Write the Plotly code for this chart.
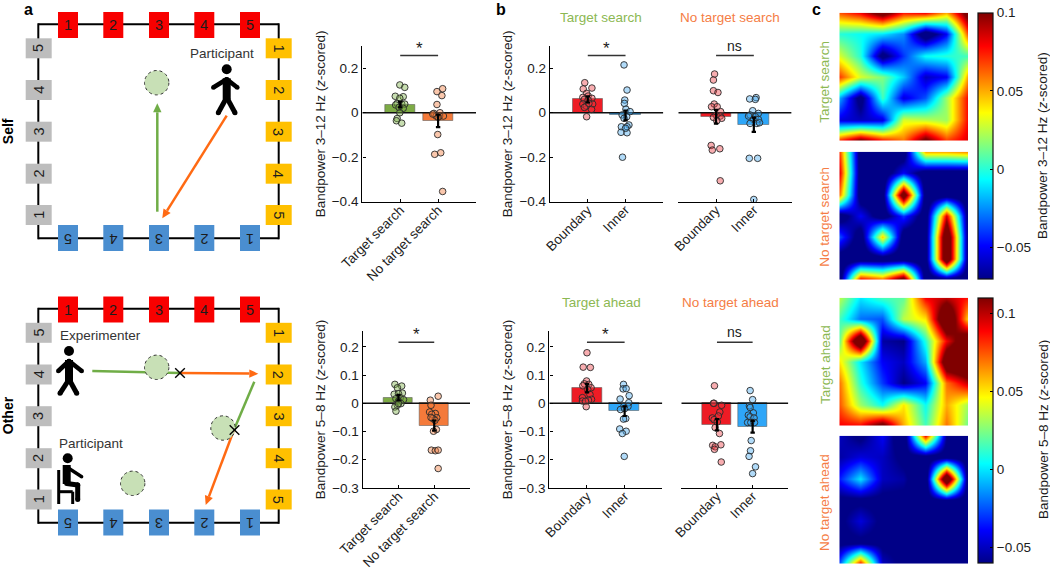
import plotly.graph_objects as go

W, H = 1050, 569
FONT = "Liberation Sans"
INK = "#1c1c1c"

# ---------- data ----------
GROUPS_SEARCH = ["Target search", "No target search"]
GROUPS_LOC = ["Boundary", "Inner"]
TICKS_3_12 = [0.2, 0, -0.2, -0.4]
TICKS_5_8 = [0.2, 0.1, 0, -0.1, -0.2, -0.3]

A1_BARS = [0.037, -0.037]
A1_ERR = [0.013, 0.028]
A1_G_X = [0.99, 1.12, 0.87, 1.08, 0.99, 0.92, 1.04, 1.12, 0.88, 0.97, 1.08, 0.99, 0.92, 0.90, 1.04]
A1_G_Y = [0.125, 0.114, 0.074, 0.072, 0.065, 0.042, 0.039, 0.039, 0.035, 0.024, 0.020, 0.0, -0.026, -0.036, -0.047]
A1_O_X = [2.12, 1.97, 2.10, 1.97, 1.89, 2.05, 1.95, 2.04, 2.14, 1.86, 1.99, 2.07, 1.91, 2.12, 2.0]
A1_O_Y = [0.108, 0.095, 0.077, 0.037, -0.003, 0.0, -0.015, -0.015, -0.015, -0.006, -0.098, -0.18, -0.187, -0.354, -0.02]

A2_BARS = [0.02, -0.079]
A2_ERR = [0.01, 0.018]
A2_G_X = [0.90, 1.09, 0.97, 1.11, 0.88, 1.0, 1.05, 0.93, 1.14, 1.0, 1.07, 0.97, 0.90, 1.0, 0.93]
A2_G_Y = [0.067, 0.061, 0.055, 0.036, 0.032, 0.034, 0.02, 0.016, 0.013, 0.008, -0.001, -0.007, -0.013, -0.001, -0.028]
A2_O_X = [2.11, 1.89, 1.91, 1.87, 2.03, 1.93, 2.07, 1.96, 2.02, 1.91, 2.06, 1.98, 1.92, 2.03, 2.11, 2.11]
A2_O_Y = [0.025, 0.011, -0.007, -0.031, -0.036, -0.039, -0.051, -0.054, -0.06, -0.05, -0.093, -0.099, -0.166, -0.168, -0.166, -0.231]

B1_BARS = [0.06, -0.012]
B1_ERR = [0.014, 0.022]
B1_R_X = [0.92, 0.88, 1.11, 0.97, 0.87, 1.01, 1.11, 0.91, 1.01, 0.87, 0.96, 1.13, 0.91, 1.10, 1.03, 0.97]
B1_R_Y = [0.135, 0.107, 0.111, 0.087, 0.069, 0.075, 0.065, 0.06, 0.057, 0.039, 0.03, 0.039, 0.024, 0.015, 0.042, -0.018]
B1_B_X = [1.96, 2.04, 1.98, 1.97, 2.01, 2.12, 1.91, 2.03, 1.96, 2.09, 1.89, 2.04, 1.88, 2.04, 2.0, 1.92]
B1_B_Y = [0.215, 0.102, 0.057, 0.042, 0.016, 0.005, -0.01, -0.018, -0.025, -0.055, -0.063, -0.063, -0.088, -0.09, -0.07, -0.2]

B2_BARS = [-0.018, -0.054]
B2_ERR = [0.031, 0.032]
B2_R_X = [0.96, 0.93, 0.93, 1.05, 0.95, 0.88, 1.03, 1.12, 1.0, 0.93, 1.11, 1.15, 1.02, 0.87, 0.90, 1.10, 1.11]
B2_R_Y = [0.174, 0.147, 0.099, 0.091, 0.039, 0.027, 0.027, 0.005, -0.01, -0.021, -0.015, -0.025, -0.036, -0.147, -0.168, -0.162, -0.306]
B2_B_X = [1.89, 2.06, 2.04, 1.97, 2.12, 1.90, 2.04, 1.86, 1.99, 2.12, 2.08, 1.90, 2.15, 1.88, 2.10, 2.0]
B2_B_Y = [0.062, 0.068, 0.06, 0.009, -0.003, -0.01, -0.018, -0.015, -0.03, -0.03, -0.048, -0.048, -0.045, -0.205, -0.205, -0.39]

B3_BARS = [0.054, -0.028]
B3_ERR = [0.015, 0.017]
B3_R_X = [1.0, 0.90, 1.09, 0.99, 0.93, 1.05, 0.89, 1.11, 1.02, 1.08, 0.88, 1.12, 1.04, 0.88, 0.96, 0.98]
B3_R_Y = [0.179, 0.128, 0.127, 0.079, 0.069, 0.067, 0.062, 0.055, 0.049, 0.031, 0.02, 0.014, 0.011, 0.008, 0.007, -0.012]
B3_B_X = [1.97, 1.96, 2.04, 2.12, 1.88, 2.11, 1.98, 2.09, 1.89, 2.0, 2.03, 1.97, 1.87, 2.04, 1.94, 1.99]
B3_B_Y = [0.067, 0.051, 0.052, 0.027, 0.015, 0.002, -0.011, -0.011, -0.022, -0.019, -0.054, -0.056, -0.091, -0.099, -0.107, -0.188]

B4_BARS = [-0.076, -0.083]
B4_ERR = [0.02, 0.021]
B4_R_X = [0.93, 0.92, 0.90, 1.13, 1.08, 1.04, 0.87, 0.92, 0.95, 1.07, 0.88, 1.11, 0.95, 0.93, 1.12, 1.01]
B4_R_Y = [0.062, 0.0, 0.0, -0.007, -0.031, -0.045, -0.052, -0.058, -0.086, -0.107, -0.149, -0.147, -0.154, -0.163, -0.208, -0.066]
B4_B_X = [1.93, 2.0, 1.91, 1.93, 2.02, 1.88, 1.93, 2.04, 1.86, 1.95, 2.05, 1.96, 1.94, 1.90, 2.08, 2.0]
B4_B_Y = [0.045, 0.013, -0.009, -0.015, -0.034, -0.042, -0.048, -0.052, -0.068, -0.068, -0.068, -0.132, -0.168, -0.188, -0.225, -0.249]

HEAT_TARGET_SEARCH = [
    [0.065, 0.08, 0.115, 0.075, 0.08, 0.05, 0.115],
    [0.0, -0.005, -0.01, -0.025, -0.09, -0.05, 0.07],
    [0.03, 0.0, -0.08, -0.04, -0.005, 0.0, 0.005],
    [0.07, 0.03, 0.015, -0.015, -0.06, -0.05, 0.055],
    [-0.02, -0.08, 0.005, -0.055, -0.035, 0.02, 0.08],
    [-0.055, -0.06, -0.055, 0.03, 0.025, 0.02, 0.08],
    [0.075, 0.11, 0.08, 0.06, 0.11, 0.07, 0.085],
]
HEAT_NO_TARGET_SEARCH = [
    [0.07, -0.085, -0.085, -0.085, 0.05, 0.05, 0.055],
    [0.085, -0.085, -0.085, -0.05, -0.085, -0.085, -0.085],
    [0.06, -0.085, -0.085, 0.13, -0.085, -0.085, -0.085],
    [-0.085, -0.05, -0.085, -0.04, -0.085, 0.085, -0.085],
    [-0.035, -0.085, 0.045, -0.085, -0.085, 0.14, -0.085],
    [-0.085, -0.085, -0.085, -0.085, -0.085, 0.14, -0.085],
    [-0.085, 0.085, 0.065, 0.125, -0.085, -0.085, -0.085],
]
HEAT_TARGET_AHEAD = [
    [0.035, 0.0, 0.015, 0.02, 0.09, 0.1, 0.085],
    [0.015, -0.02, -0.025, 0.035, 0.05, 0.15, 0.05],
    [0.02, 0.16, -0.055, -0.06, 0.01, 0.09, 0.14],
    [0.05, 0.0, -0.04, -0.05, -0.01, 0.14, 0.15],
    [0.07, 0.01, -0.03, -0.06, -0.04, 0.07, 0.1],
    [0.075, 0.03, 0.005, 0.05, 0.005, 0.06, 0.03],
    [0.09, 0.09, 0.125, 0.06, 0.015, 0.07, 0.02],
]
HEAT_NO_TARGET_AHEAD = [
    [-0.05, -0.065, -0.04, -0.08, 0.09, -0.06, -0.065],
    [-0.055, -0.045, -0.05, -0.065, -0.07, -0.07, -0.07],
    [-0.035, 0.0, -0.05, -0.055, -0.08, 0.16, -0.08],
    [-0.065, -0.065, -0.065, -0.065, -0.07, -0.06, -0.07],
    [-0.065, -0.045, -0.065, -0.065, -0.065, -0.065, -0.065],
    [-0.065, -0.065, -0.065, -0.065, -0.065, -0.065, -0.065],
    [-0.025, 0.09, -0.05, -0.065, -0.065, -0.065, -0.065],
]
CBAR_RANGE_TOP = [-0.07, 0.1]
CBAR_RANGE_BOTTOM = [-0.06, 0.11]
CBAR_TICKS = [0.1, 0.05, 0, -0.05]
CBAR_LABELS = ["0.1", "0.05", "0", "\u22120.05"]

SIDE_NUMBERS = ["1", "2", "3", "4", "5"]

# ---------- colours ----------
GREEN, ORANGE, RED, BLUE = "#7dab45", "#f47a3a", "#ee1c25", "#2ea6f8"
GREEN_RGB, ORANGE_RGB = "124,176,70", "244,122,58"
RED_RGB, BLUE_RGB = "238,60,66", "70,170,240"
HEAD_GREEN, HEAD_ORANGE = "#8cb852", "#f57d45"
JET = [[0, "rgb(0,0,135)"], [0.125, "rgb(0,0,255)"], [0.375, "rgb(0,255,255)"],
       [0.625, "rgb(255,255,0)"], [0.875, "rgb(255,0,0)"], [1, "rgb(128,0,0)"]]

fig = go.Figure()
shapes, annots = [], []
layout = {}


def fx(px):
    return px / W


def fy(py):
    return 1 - py / H


def txt(x, y, s, size=13.5, color=INK, angle=0, bold=False):
    annots.append(dict(
        x=fx(x), y=fy(y), xref="paper", yref="paper", text=f"<b>{s}</b>" if bold else s,
        showarrow=False, textangle=angle, xanchor="center", yanchor="middle",
        font=dict(family=FONT, size=size, color=color)))


def rect(x0, y0, x1, y1, fill, line="rgba(255,255,255,0)"):
    shapes.append(dict(type="rect", xref="paper", yref="paper", x0=fx(x0), x1=fx(x1),
                       y0=fy(y0), y1=fy(y1), fillcolor=fill, line=dict(color=line, width=0.5)))


def seg(x0, y0, x1, y1, color="black", width=2.0):
    shapes.append(dict(type="line", xref="paper", yref="paper", x0=fx(x0), x1=fx(x1),
                       y0=fy(y0), y1=fy(y1), line=dict(color=color, width=width)))


def disc(cx, cy, r, fill="black", line=None, dash="solid", lw=0):
    shapes.append(dict(type="circle", xref="paper", yref="paper", x0=fx(cx - r), x1=fx(cx + r),
                       y0=fy(cy - r), y1=fy(cy + r), fillcolor=fill,
                       line=dict(color=line or fill, width=lw, dash=dash)))


def limb(x0, y0, x1, y1, w):
    seg(x0, y0, x1, y1, "black", w)
    disc(x0, y0, w / 2)
    disc(x1, y1, w / 2)


def arrow(x0, y0, x1, y1, color, width=2.5, head=9, half=4.2):
    dx, dy = x1 - x0, y1 - y0
    n = (dx * dx + dy * dy) ** 0.5
    ux, uy = dx / n, dy / n
    bx, by = x1 - ux * head, y1 - uy * head
    seg(x0, y0, bx, by, color, width)
    p1 = (bx - uy * half, by + ux * half)
    p2 = (bx + uy * half, by - ux * half)
    path = f"M {fx(x1)} {fy(y1)} L {fx(p1[0])} {fy(p1[1])} L {fx(p2[0])} {fy(p2[1])} Z"
    shapes.append(dict(type="path", xref="paper", yref="paper", path=path, fillcolor=color,
                       line=dict(color=color, width=0)))


def cross(x, y, r=4.8):
    seg(x - r, y - r, x + r, y + r, "black", 1.4)
    seg(x - r, y + r, x + r, y - r, "black", 1.4)


def standing(dx, dy, ax, bx, ay, ly, lx0, lx1):
    # head, torso, arms, legs of the stick person
    disc(dx, dy, 5)
    seg(dx, dy + 9, dx, dy + 30, "black", 8)
    limb(dx, dy + 10, ax, ay, 4.6)
    limb(dx, dy + 10, bx, ay, 4.6)
    limb(dx - 1, dy + 30, lx0, ly, 5)
    limb(dx + 1, dy + 30, lx1, ly, 5)


def arena(dy):
    seg(38.3, 24.3 + dy, 278.7, 24.3 + dy)
    seg(38.3, 238.3 + dy, 278.7, 238.3 + dy)
    seg(38.3, 23.3 + dy, 38.3, 239.3 + dy)
    seg(278.7, 23.3 + dy, 278.7, 239.3 + dy)
    cols = [68, 113.3, 159, 204.3, 250]
    rows = [48.3, 90, 131.7, 173.7, 215]
    for i, n in enumerate(SIDE_NUMBERS):
        rect(cols[i] - 10, 12 + dy, cols[i] + 10, 38 + dy, "#f80000")
        txt(cols[i], 25.5 + dy, n, size=14.5)
        rect(cols[4 - i] - 10, 225 + dy, cols[4 - i] + 10, 251 + dy, "#4a8ed0")
        txt(cols[4 - i], 238.3 + dy, n, size=14.5, angle=180)
        rect(25.7, rows[4 - i] - 10 + dy, 51.7, rows[4 - i] + 10 + dy, "#bdbdbd")
        txt(38.7, rows[4 - i] + dy, n, size=14.5, angle=-90)
        rect(265.7, rows[i] - 10 + dy, 291.7, rows[i] + 10 + dy, "#ffc000")
        txt(278.7, rows[i] + dy, n, size=14.5, angle=90)


def target(cx, cy):
    disc(cx, cy, 12.2, fill="#c8e0b6", line="#333333", dash="dot", lw=1)


# ---------- panel a schematics ----------
arena(0)
arena(284.5)
LINE_G, LINE_O = "#70ad47", "#ff6a13"

arrow(157.3, 211.7, 157.3, 103.3, LINE_G)
arrow(226.7, 115.7, 162.3, 218.3, LINE_O)
target(156.7, 82.7)
standing(226.7, 69.3, 213.3, 237.3, 87.5, 112.7, 218.3, 235)
txt(222.3, 53.3, "Participant", color="#333333")

seg(92.3, 371, 180, 373, LINE_G, 2.5)
arrow(180, 373, 258.3, 373.7, LINE_O)
seg(254.3, 381.7, 234.3, 429, LINE_G, 2.5)
arrow(234.3, 429, 205.7, 505, LINE_O)
target(156.7, 367.3)
target(223, 428)
target(132.7, 483.3)
cross(180, 373)
cross(234.5, 430)
standing(69, 351, 58.3, 81.7, 371, 393.3, 60, 76.7)
txt(100, 335.7, "Experimenter", color="#333333")
txt(91, 443.3, "Participant", color="#333333")
# seated participant
disc(67.7, 458.3, 5)
seg(66.7, 465, 66.7, 484, "black", 8)
limb(68.3, 468, 81.7, 476.7, 3.4)
limb(66.7, 483.5, 77.7, 485, 5)
limb(77.7, 485, 77.7, 499.5, 5)
seg(58.7, 470, 58.7, 504, "black", 3)
seg(58.7, 491.7, 72.7, 491.7, "black", 3)
seg(72.7, 491.7, 72.7, 504, "black", 3)

# ---------- panel letters and side labels ----------
txt(28, 9.5, "a", size=16, color="black", bold=True)
txt(500.7, 9.5, "b", size=16, color="black", bold=True)
txt(816, 9.5, "c", size=16, color="black", bold=True)
txt(7.5, 131.7, "Self", size=14, color="black", angle=-90, bold=True)
txt(7.5, 415.7, "Other", size=14, color="black", angle=-90, bold=True)
txt(601, 17.7, "Target search", color=HEAD_GREEN)
txt(730, 17.7, "No target search", color=HEAD_ORANGE)
txt(601, 302.3, "Target ahead", color=HEAD_GREEN)
txt(730.7, 302.3, "No target ahead", color=HEAD_ORANGE)
txt(825, 81.7, "Target search", color=HEAD_GREEN, angle=-90)
txt(825, 216.7, "No target search", color=HEAD_ORANGE, angle=-90)
txt(825, 365, "Target ahead", color=HEAD_GREEN, angle=-90)
txt(825, 503, "No target ahead", color=HEAD_ORANGE, angle=-90)
txt(1043, 146, "Bandpower 3\u201312 Hz (<i>z</i>-scored)", angle=-90)
txt(1043, 430, "Bandpower 5\u20138 Hz (<i>z</i>-scored)", angle=-90)

_axis_n = [0]


def new_axes(px0, px1, py0, py1):
    _axis_n[0] += 1
    n = _axis_n[0]
    sfx = "" if n == 1 else str(n)
    xname, yname = f"xaxis{sfx}", f"yaxis{sfx}"
    xd = dict(domain=[fx(px0), fx(px1)], anchor=f"y{sfx}")
    yd = dict(domain=[fy(py1), fy(py0)], anchor=f"x{sfx}")
    layout[xname], layout[yname] = xd, yd
    return f"x{sfx}", f"y{sfx}", xd, yd


def fmt_tick(v):
    if v == 0:
        return "0"
    return f"{v:.1f}".replace("-", "\u2212")


def bars(px0, px1, py0, py1, ymin, ymax, ticks, labels, values, errs,
         xs1, ys1, xs2, ys2, col1, col2, rgb1, rgb2, bracket, mark, ylabel=None):
    xr, yr, xd, yd = new_axes(px0, px1, py0, py1)
    xd.update(range=[0, 3], tickvals=[1, 2], ticktext=labels, tickangle=-45,
              ticks="inside", ticklen=3, tickwidth=1, tickcolor="black", ticklabelstandoff=-6,
              showline=True, linecolor="black", linewidth=1.4, showgrid=False, zeroline=False,
              tickfont=dict(family=FONT, size=13.5, color=INK))
    yd.update(range=[ymin, ymax], showgrid=False, zeroline=False)
    if ylabel:
        yd.update(tickvals=ticks, ticktext=[fmt_tick(v) for v in ticks], ticks="inside",
                  ticklen=3, tickwidth=1, tickcolor="black", showline=True, linecolor="black",
                  linewidth=1.4, tickfont=dict(family=FONT, size=13.5, color=INK),
                  title=dict(text=ylabel, standoff=3, font=dict(family=FONT, size=13.5, color=INK)))
    else:
        yd.update(showticklabels=False, ticks="", showline=False)
    fig.add_trace(go.Bar(x=[1, 2], y=values, width=0.8, xaxis=xr, yaxis=yr,
                         marker=dict(color=[col1, col2], line=dict(color="rgba(90,90,90,0.55)", width=1)),
                         showlegend=False, hoverinfo="skip"))
    fig.add_trace(go.Scatter(x=[0, 3], y=[0, 0], mode="lines", xaxis=xr, yaxis=yr, showlegend=False,
                             line=dict(color="#111111", width=1.5), hoverinfo="skip"))
    for xs, ys, rgb in ((xs1, ys1, rgb1), (xs2, ys2, rgb2)):
        fig.add_trace(go.Scatter(x=xs, y=ys, mode="markers", xaxis=xr, yaxis=yr, showlegend=False,
                                 marker=dict(size=6.6, color=f"rgba({rgb},0.42)",
                                             line=dict(color="#2a2a2a", width=0.9)), hoverinfo="skip"))
    fig.add_trace(go.Scatter(x=[1, 2], y=values, mode="markers", xaxis=xr, yaxis=yr, showlegend=False,
                             marker=dict(size=1, color="black"), hoverinfo="skip",
                             error_y=dict(type="data", array=errs, color="black", thickness=2.2, width=2.2)))
    fig.add_trace(go.Scatter(x=[1, 2], y=[bracket, bracket], mode="lines", xaxis=xr, yaxis=yr,
                             showlegend=False, line=dict(color="#333333", width=1.5), hoverinfo="skip"))
    annots.append(dict(x=1.5, y=bracket, xref=xr, yref=yr, text=mark, showarrow=False,
                       yanchor="bottom", yshift=-4 if mark == "*" else 0,
                       font=dict(family=FONT, size=17 if mark == "*" else 14, color=INK)))


BRACKET_TOP, BRACKET_BOTTOM = 0.257, 0.216
TITLE_1 = "Bandpower 3\u201312 Hz (<i>z</i>-scored)"
TITLE_2 = "Bandpower 5\u20138 Hz (<i>z</i>-scored)"

bars(362.3, 476, 46, 201.7, -0.4, 0.3, TICKS_3_12, GROUPS_SEARCH, A1_BARS, A1_ERR,
     A1_G_X, A1_G_Y, A1_O_X, A1_O_Y, GREEN, ORANGE, GREEN_RGB, ORANGE_RGB, BRACKET_TOP, "*", TITLE_1)
bars(362.7, 470, 331, 488, -0.3, 0.256, TICKS_5_8, GROUPS_SEARCH, A2_BARS, A2_ERR,
     A2_G_X, A2_G_Y, A2_O_X, A2_O_Y, GREEN, ORANGE, GREEN_RGB, ORANGE_RGB, BRACKET_BOTTOM, "*", TITLE_2)
bars(550, 663.3, 46, 201.7, -0.4, 0.3, TICKS_3_12, GROUPS_LOC, B1_BARS, B1_ERR,
     B1_R_X, B1_R_Y, B1_B_X, B1_B_Y, RED, BLUE, RED_RGB, BLUE_RGB, BRACKET_TOP, "*", TITLE_1)
bars(678.3, 791.6, 46, 201.7, -0.4, 0.3, TICKS_3_12, GROUPS_LOC, B2_BARS, B2_ERR,
     B2_R_X, B2_R_Y, B2_B_X, B2_B_Y, RED, BLUE, RED_RGB, BLUE_RGB, BRACKET_TOP, "ns")
bars(549.3, 662.3, 331, 488, -0.3, 0.256, TICKS_5_8, GROUPS_LOC, B3_BARS, B3_ERR,
     B3_R_X, B3_R_Y, B3_B_X, B3_B_Y, RED, BLUE, RED_RGB, BLUE_RGB, BRACKET_BOTTOM, "*", TITLE_2)
bars(681.3, 788.3, 331, 488, -0.3, 0.256, TICKS_5_8, GROUPS_LOC, B4_BARS, B4_ERR,
     B4_R_X, B4_R_Y, B4_B_X, B4_B_Y, RED, BLUE, RED_RGB, BLUE_RGB, BRACKET_BOTTOM, "ns")


def heat(py0, py1, z, coloraxis):
    xr, yr, xd, yd = new_axes(839.3, 968, py0, py1)
    hidden = dict(visible=False, showgrid=False, zeroline=False)
    xd.update(range=[0, 6], **hidden)
    yd.update(range=[6, 0], **hidden)
    n = list(range(len(z)))
    fig.add_trace(go.Heatmap(z=z, x=n, y=n, zsmooth="best", coloraxis=coloraxis, xaxis=xr, yaxis=yr,
                             hoverinfo="skip"))


heat(12.7, 140.7, HEAT_TARGET_SEARCH, "coloraxis")
heat(151.7, 279.7, HEAT_NO_TARGET_SEARCH, "coloraxis")
heat(297.7, 425.7, HEAT_TARGET_AHEAD, "coloraxis2")
heat(435.7, 563.7, HEAT_NO_TARGET_AHEAD, "coloraxis2")


def cbar(rng, top_px, bottom_px):
    return dict(
        cmin=rng[0], cmax=rng[1], colorscale=JET,
        colorbar=dict(x=fx(978), xanchor="left", xref="paper", y=fy(top_px), yanchor="top",
                      yref="paper", len=(bottom_px - top_px) / H, lenmode="fraction",
                      thickness=14.7, thicknessmode="pixels", xpad=0, ypad=0,
                      outlinecolor="#111111", outlinewidth=1.2, ticks="inside", ticklen=3,
                      tickcolor="black", tickwidth=1, tickvals=CBAR_TICKS, ticktext=CBAR_LABELS,
                      tickfont=dict(family=FONT, size=13.5, color=INK)))


fig.update_layout(
    width=W, height=H, margin=dict(l=0, r=0, t=0, b=0), autosize=False,
    paper_bgcolor="white", plot_bgcolor="white", template=None, showlegend=False,
    font=dict(family=FONT, color=INK), bargap=0,
    coloraxis=cbar(CBAR_RANGE_TOP, 12.7, 279),
    coloraxis2=cbar(CBAR_RANGE_BOTTOM, 297.7, 563),
    shapes=shapes, annotations=annots, **layout)

fig.write_html("out.html", config=dict(displayModeBar=False),
               post_script="document.body.style.margin='0';document.body.style.overflow='hidden';")
